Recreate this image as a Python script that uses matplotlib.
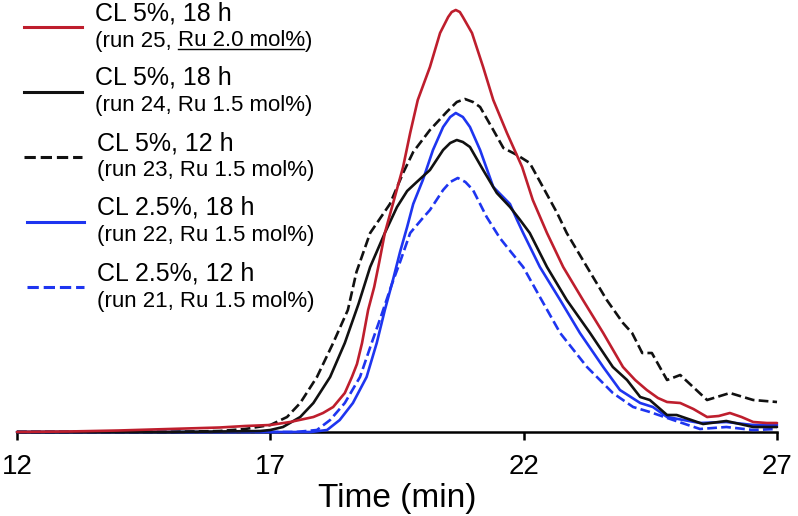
import matplotlib
matplotlib.use("Agg")
import matplotlib.pyplot as plt
from matplotlib.lines import Line2D

plt.rcParams['font.family'] = ['Liberation Sans', 'DejaVu Sans']

# ---------------- data (signal in arbitrary units) ----------------
t_run25 = [12, 13, 14, 15, 16, 16.5, 17.0, 17.39, 17.85, 18.04, 18.24, 18.47, 18.61, 18.71, 18.81,
           18.93, 19.05, 19.15, 19.26, 19.44, 19.62, 19.76, 19.91, 20.15, 20.35, 20.51, 20.58, 20.66,
           20.74, 20.80, 20.98, 21.2, 21.4, 21.67, 21.97, 22.18, 22.46, 22.78, 23.17, 23.57, 23.96,
           24.2, 24.43, 24.65, 24.83, 25.09, 25.35, 25.62, 25.85, 26.07, 26.3, 26.53, 26.8, 27]
v_run25 = [0, 0.5, 1.5, 3, 4.5, 6, 7, 10, 15, 19, 25, 39, 55, 68, 89,
           122, 145, 170, 199, 232, 265, 299, 332, 365, 399, 415, 420, 422,
           420, 415, 399, 365, 332, 299, 265, 232, 199, 165, 132, 99, 65,
           52, 42, 34, 30, 29, 23, 15, 16, 19, 15, 10, 9, 9]

t_run24 = [12, 15, 16, 16.8, 17.0, 17.25, 17.59, 17.85, 18.18, 18.47, 18.74, 18.97, 19.26, 19.5,
           19.7, 19.89, 20.15, 20.41, 20.55, 20.68, 20.8, 20.94, 21.2, 21.47, 21.73, 21.93, 22.12,
           22.46, 22.85, 23.31, 23.76, 24.04, 24.3, 24.49, 24.83, 25.02, 25.54, 26.0, 26.53, 27]
v_run24 = [0, 0, 0.5, 1, 2, 5, 15, 29, 55, 89, 128, 165, 199, 225,
           241, 250, 262, 282, 289, 292, 290, 285, 262, 239, 225, 212, 199,
           165, 132, 99, 65, 52, 35, 32, 17, 17, 8, 11, 5, 5]

t_run23 = [12, 15, 16, 16.5, 17.0, 17.33, 17.59, 17.92, 18.24, 18.53, 18.7, 18.97, 19.36, 19.62,
           19.82, 20.15, 20.48, 20.68, 20.84, 21.0, 21.14, 21.4, 21.6, 21.87, 22.12, 22.38, 22.66,
           22.85, 23.25, 23.64, 23.96, 24.14, 24.34, 24.53, 24.83, 25.09, 25.62, 26.07, 26.53, 27]
v_run23 = [0, 0, 1, 3, 7, 15, 29, 55, 89, 122, 160, 199, 228, 259,
           280, 302, 320, 330, 333, 330, 325, 302, 284, 277, 269, 245, 219,
           199, 165, 132, 109, 99, 79, 79, 52, 57, 32, 39, 32, 30]

t_run22 = [12, 17, 17.8, 18.12, 18.37, 18.63, 18.9, 19.1, 19.26, 19.42, 19.56, 19.7, 19.82, 20.01,
           20.21, 20.41, 20.55, 20.66, 20.8, 20.94, 21.14, 21.4, 21.73, 21.87, 21.99, 22.32, 22.72,
           23.11, 23.57, 23.9, 24.3, 24.55, 24.83, 25.48, 26.0, 26.53, 27]
v_run22 = [0, 0, 0, 2, 12, 29, 55, 89, 122, 152, 180, 205, 228, 252,
           282, 305, 315, 319, 315, 305, 282, 245, 228, 212, 199, 165, 132,
           99, 65, 42, 29, 25, 15, 9, 10, 7, 7]

t_run21 = [12, 17.5, 17.92, 18.18, 18.47, 18.77, 19.0, 19.2, 19.4, 19.56, 19.76, 20.01, 20.15,
           20.41, 20.55, 20.7, 20.85, 21.0, 21.27, 21.53, 21.75, 21.99, 22.32, 22.72, 23.25, 23.76,
           24.16, 24.49, 24.95, 25.48, 26.0, 26.53, 27]
v_run21 = [0, 0, 2, 12, 29, 55, 89, 118, 148, 170, 199, 214, 222,
           242, 250, 254, 250, 242, 215, 194, 180, 165, 135, 99, 65, 39,
           25, 20, 12, 3, 5, 2, 3]

main_labels = ["CL 5%, 18 h", "CL 5%, 18 h", "CL 5%, 12 h", "CL 2.5%, 18 h", "CL 2.5%, 12 h"]
sub_labels = ["(run 25, Ru 2.0 mol%)", "(run 24, Ru 1.5 mol%)", "(run 23, Ru 1.5 mol%)",
              "(run 22, Ru 1.5 mol%)", "(run 21, Ru 1.5 mol%)"]
x_ticks = [12, 17, 22, 27]

RED = '#BE1E2D'
BLUE = '#1E35F0'
BLACK = '#111111'
series = [
    (t_run25, v_run25, RED, '-'),
    (t_run24, v_run24, BLACK, '-'),
    (t_run23, v_run23, BLACK, '--'),
    (t_run22, v_run22, BLUE, '-'),
    (t_run21, v_run21, BLUE, '--'),
]

W, H = 798, 516
fig = plt.figure(figsize=(W / 100, H / 100), dpi=100)
ax = fig.add_axes([17 / W, 84 / H, 760 / W, 432 / H])

LW = 1.9
draw_order = [4, 3, 2, 1, 0]
for i in draw_order:
    t, v, c, ls = series[i]
    ax.plot(t, v, color=c, ls=ls, lw=LW, solid_capstyle='round', solid_joinstyle='round',
            zorder=3 + (4 - i) * 0.1, clip_on=False)

ax.set_xlim(12, 27)
ax.set_ylim(0, 432)
ax.set_xticks(x_ticks)
ax.set_xticklabels([str(x) for x in x_ticks])
ax.set_yticks([])
for s in ['left', 'right', 'top']:
    ax.spines[s].set_visible(False)
ax.spines['bottom'].set_linewidth(1.8)
ax.spines['bottom'].set_color('black')
ax.spines['bottom'].set_zorder(2)
ax.tick_params(axis='x', direction='out', length=6, width=1.8, pad=10, labelsize=20)
ax.set_xlabel("Time (min)", fontsize=24, labelpad=2)
ax.patch.set_visible(False)


def fx(px):
    return px / W


def fy(py):
    return 1 - py / H


main_x = [95, 95, 97, 97, 97]
for i, (t, v, c, ls) in enumerate(series):
    hy = 27 + 65 * i
    hx0, hx1 = (24, 82) if i < 3 else (27, 84)
    fig.add_artist(Line2D([fx(hx0), fx(hx1)], [fy(hy), fy(hy)], color=c, ls=ls, lw=LW + 0.3,
                          transform=fig.transFigure))
    fig.text(fx(main_x[i]), fy(13 + 65 * i), main_labels[i], fontsize=18, va='center', ha='left')
    if i == 0:
        t1 = fig.text(fx(main_x[i]), fy(41 + 65 * i), "(run 25,", fontsize=16, va='center', ha='left')
        t2 = ax.annotate("Ru 2.0 mol%", xy=(1, 0), xycoords=t1, xytext=(4.4, 0),
                         textcoords='offset points', fontsize=16, va='bottom', ha='left',
                         annotation_clip=False)
        t3 = ax.annotate(")", xy=(1, 0), xycoords=t2, fontsize=16, va='bottom', ha='left',
                         annotation_clip=False)
    else:
        fig.text(fx(main_x[i]), fy(41 + 65 * i), sub_labels[i], fontsize=16, va='center', ha='left')

fig.canvas.draw()
bb = t2.get_window_extent()
inv = fig.transFigure.inverted()
(ux0, uy), (ux1, _) = inv.transform([(bb.x0 + 0.5, bb.y0 + 2.5), (bb.x1 - 0.5, bb.y0 + 2.5)])
fig.add_artist(Line2D([ux0, ux1], [uy, uy], color='black', lw=1.0, transform=fig.transFigure))

fig.savefig("out.png", dpi=100)
